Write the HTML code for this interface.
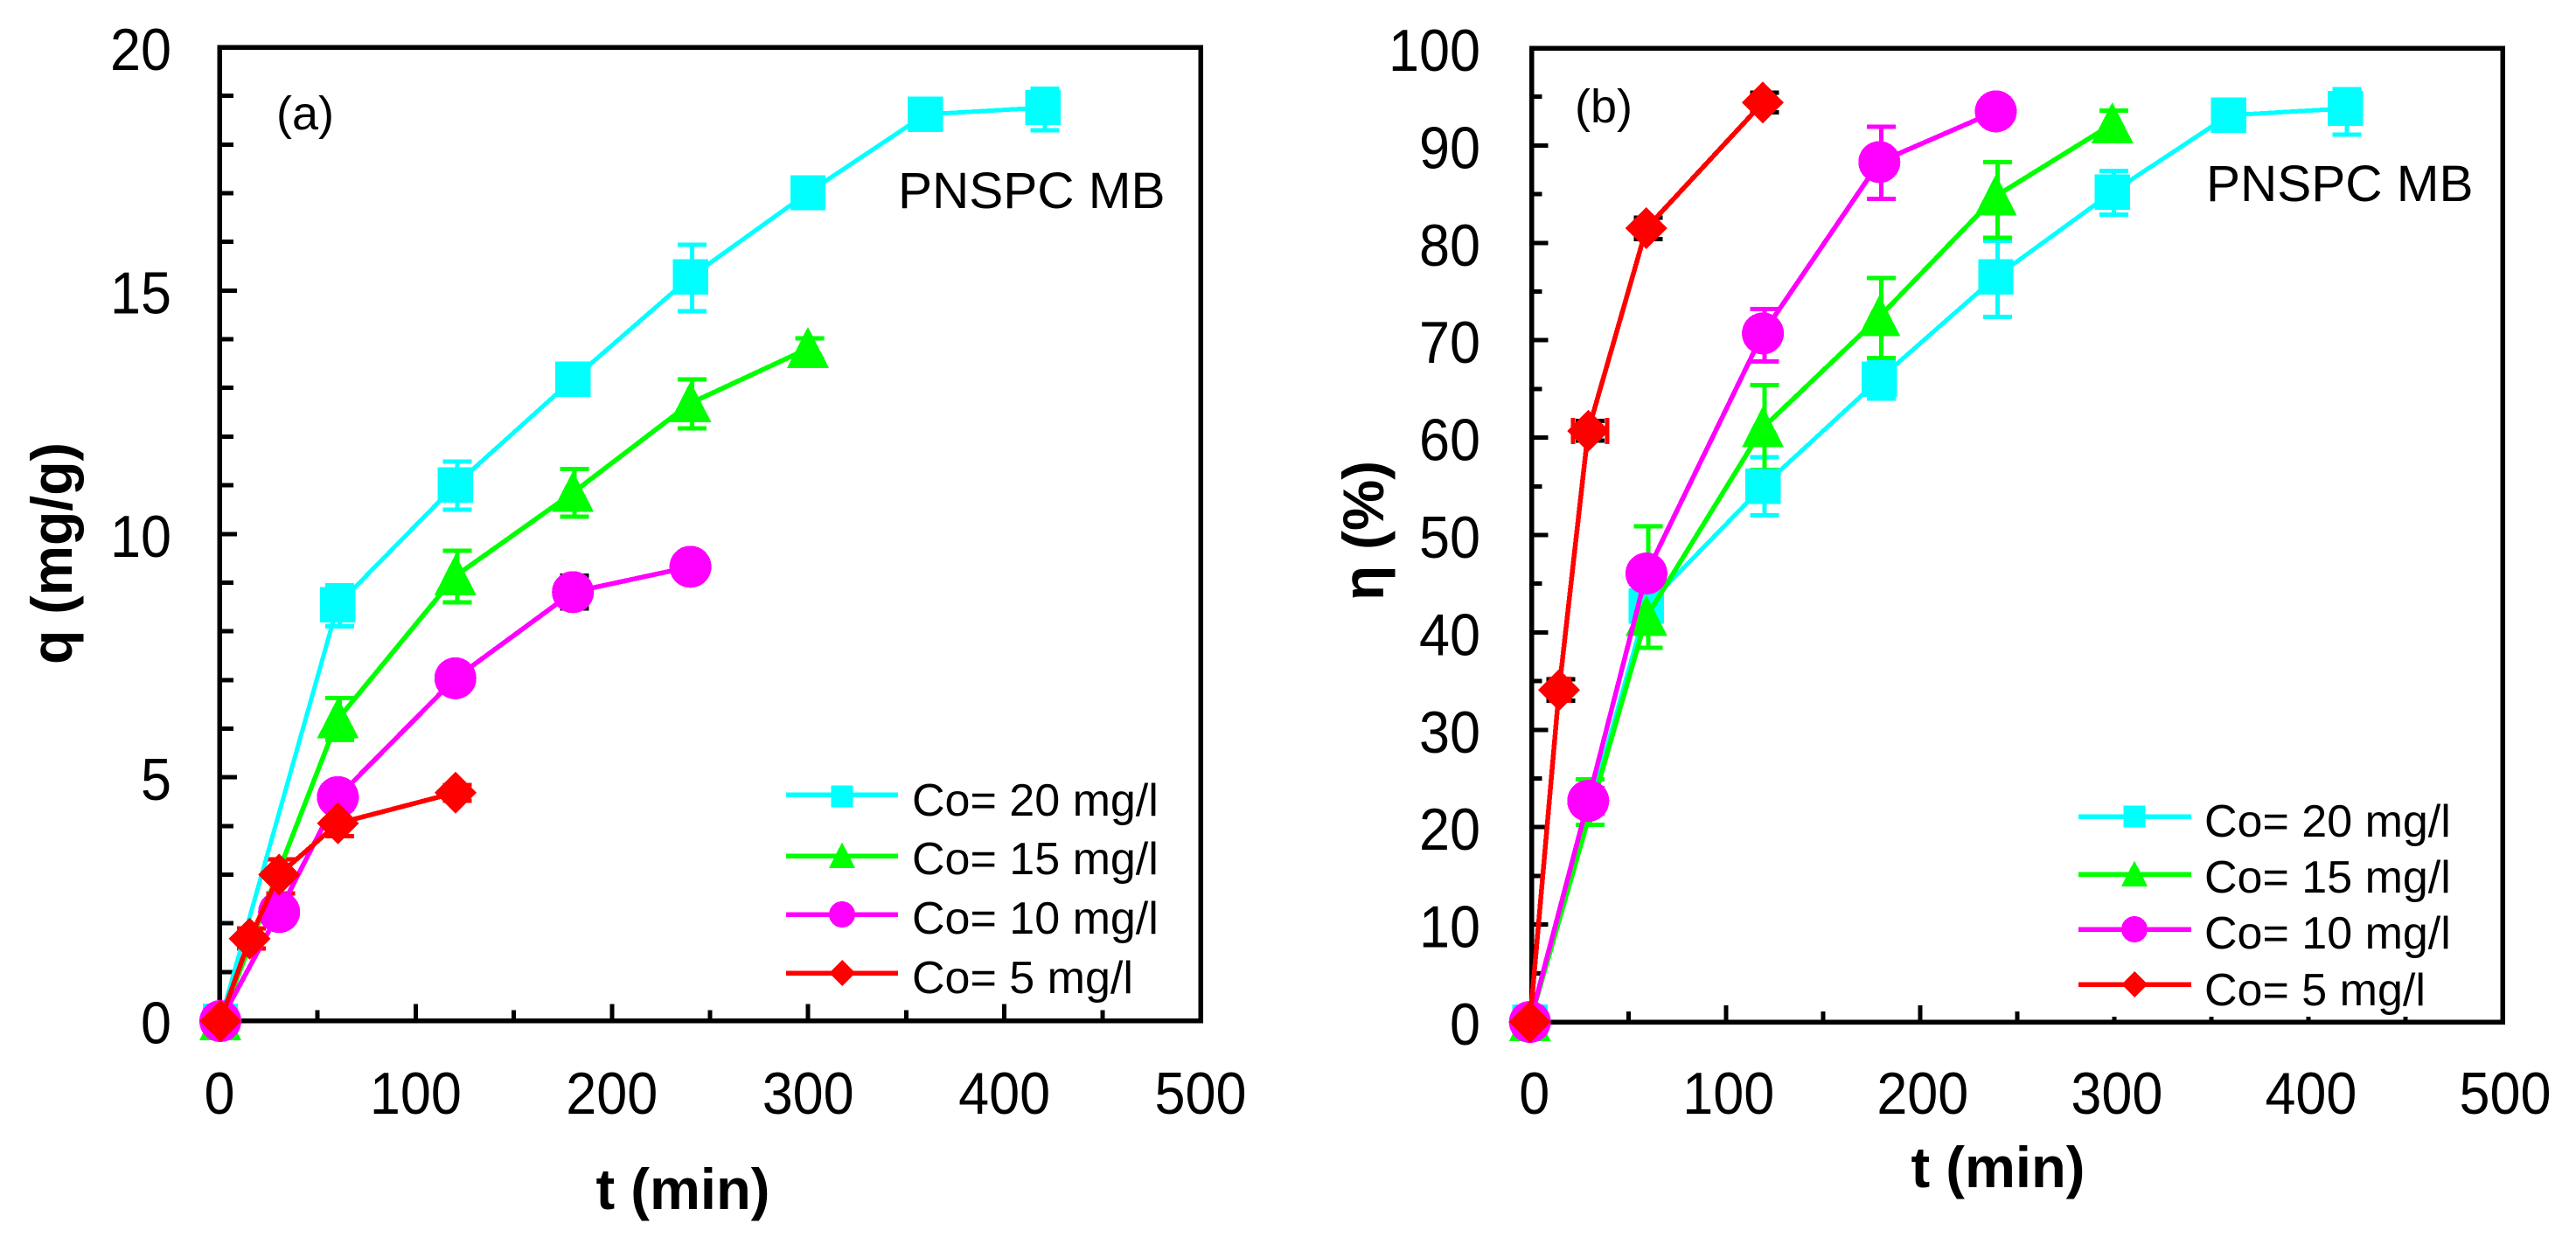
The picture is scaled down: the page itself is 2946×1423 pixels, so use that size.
<!DOCTYPE html>
<html lang="en">
<head>
<meta charset="utf-8">
<title>Adsorption kinetics of MB on PNSPC</title>
<style>
html,body{margin:0;padding:0;background:#fff;}
svg{display:block;}
text{font-family:"Liberation Sans",sans-serif;fill:#000;}
</style>
</head>
<body>
<svg id="chart" xmlns="http://www.w3.org/2000/svg" width="2946" height="1423" viewBox="0 0 2946 1423" shape-rendering="crispEdges">
  <rect x="0" y="0" width="2946" height="1423" fill="#fff"/>
  <g id="panel-a"></g>
  <g id="panel-b"></g>
</svg>
<script>
// ---------- axis tick data ----------
const xTickLabels = [0, 100, 200, 300, 400, 500];
const yTickLabelsA = [0, 5, 10, 15, 20];
const yTickLabelsB = [0, 10, 20, 30, 40, 50, 60, 70, 80, 90, 100];
const legendLabels = ['Co= 20 mg/l', 'Co= 15 mg/l', 'Co= 10 mg/l', 'Co= 5 mg/l'];

// ---------- panel (a): q (mg/g) ----------
const tA20 = [0, 60, 120, 180, 240, 300, 360, 420];
const qA20 = [0, 8.55, 11.01, 13.18, 15.28, 17.01, 18.62, 18.76];
const qA20Up = [0, 8.95, 11.49, 13.4, 15.94, 17.12, 18.8, 19.15];
const qA20Low = [0, 8.11, 10.5, 13.0, 14.58, 16.9, 18.45, 18.29];

const tA15 = [0, 60, 120, 180, 240, 300];
const qA15 = [0, 6.2, 9.14, 10.85, 12.69, 13.81];
const qA15Up = [0, 6.63, 9.66, 11.34, 13.18, 14.02];
const qA15Low = [0, 5.77, 8.6, 10.36, 12.17, 13.6];

const tA10 = [0, 30, 60, 120, 180, 240];
const qA10 = [0, 2.24, 4.6, 7.04, 8.81, 9.33];
const qA10Up = [0, 2.4, 4.85, 7.2, 9.15, 9.45];
const qA10Low = [0, 2.1, 4.35, 6.9, 8.47, 9.2];
const blackErrTA = [180, 60];
const blackErrUpA = [9.15, 4.85];
const blackErrLowA = [8.47, 4.35];

const tA5 = [0, 15, 30, 60, 120];
const qA5 = [0, 1.69, 3.01, 4.06, 4.69];
const qA5Up = [0, 1.9, 3.32, 4.35, 4.85];
const qA5Low = [0, 1.49, 2.62, 3.8, 4.52];

// ---------- panel (b): removal efficiency (%) ----------
const tB20 = [0, 60, 120, 180, 240, 300, 360, 420];
const eB20 = [0, 42.7, 55, 66, 76.5, 85.2, 93.1, 93.8];
const eB20Up = [0, 45, 58, 68, 80.2, 87.4, 94, 95.8];
const eB20Low = [0, 40.5, 52, 64, 72.4, 82.9, 92.2, 91.1];

const tB15 = [0, 60, 120, 180, 240, 300];
const eB15 = [0, 41.6, 61, 72.4, 84.8, 92.2];
const eBErrT15 = [30, 60, 120, 180, 240, 300];
const eB15Up = [24.9, 50.9, 65.4, 76.4, 88.3, 93.6];
const eB15Low = [20.25, 38.4, 56.7, 68.2, 80.5, 90.8];

const tB10 = [0, 30, 60, 120, 180, 240];
const eB10 = [0, 22.7, 46.05, 70.7, 88.3, 93.5];
const eB10Up = [0, 24, 47, 73.2, 91.9, 94.5];
const eB10Low = [0, 21.4, 45, 67.8, 84.5, 92.5];

const tB5 = [0, 15, 30, 60, 120];
const eB5 = [0, 34.1, 60.7, 81.5, 94.4];
const eB5Up = [0, 35.2, 61.7, 82.6, 95.4];
const eB5Low = [0, 33, 59.7, 80.4, 93.4];
const eB5XErrT = [15, 30];
const eB5XErrMin = [10, 21.2];
const eB5XErrMax = [19.2, 38.8];

const CYAN = '#00ffff', GREEN = '#00ff00', MAGENTA = '#ff00ff', RED = '#ff0000';
const NS = 'http://www.w3.org/2000/svg';

function make(parent, tag, attrs, name) {
  const el = document.createElementNS(NS, tag);
  for (const k in attrs) el.setAttribute(k, attrs[k]);
  
  
  parent.appendChild(el);
  return el;
}

function label(parent, txt, x, y, size, opts, name) {
  const t = make(parent, 'text', Object.assign({x: x, y: y, 'font-size': size}, opts || {}), name);
  t.textContent = txt;
  return t;
}

function marker(parent, kind, cx, cy, color, name, s) {
  const w = s || 24;
  if (kind === 'square') {
    const h = w * 0.84;
    make(parent, 'rect', {x: cx - h, y: cy - h, width: 2 * h, height: 2 * h, fill: color}, name);
  } else if (kind === 'triangle') {
    make(parent, 'polygon', {points: (cx) + ',' + (cy - w * 1.04) + ' ' + (cx + w) + ',' + (cy + w * 0.92) + ' ' + (cx - w) + ',' + (cy + w * 0.92), fill: color}, name);
  } else if (kind === 'circle') {
    make(parent, 'circle', {cx: cx, cy: cy, r: w, fill: color}, name);
  } else {
    make(parent, 'polygon', {points: cx + ',' + (cy - w) + ' ' + (cx + w) + ',' + cy + ' ' + cx + ',' + (cy + w) + ' ' + (cx - w) + ',' + cy, fill: color}, name);
  }
}

function vError(g, px, yUp, yLow, color, name) {
  make(g, 'line', {x1: px, x2: px, y1: yUp, y2: yLow, stroke: color, 'stroke-width': 5}, name + '-stem');
  make(g, 'line', {x1: px - 16.5, x2: px + 16.5, y1: yUp, y2: yUp, stroke: color, 'stroke-width': 5}, name + '-cap-top');
  make(g, 'line', {x1: px - 16.5, x2: px + 16.5, y1: yLow, y2: yLow, stroke: color, 'stroke-width': 5}, name + '-cap-bottom');
}

function drawPanel(cfg) {
  const g = cfg.g;
  const sx = cfg.sx, sy = cfg.sy;
  const axisX = t => cfg.ax + (cfg.ax2 - cfg.ax) * t / 500;
  const axisY = v => cfg.ay + (cfg.ay2 - cfg.ay) * v / cfg.yMax;

  // error bars (under everything)
  cfg.series.forEach(s => {
    const errT = s.errT || s.t;
    errT.forEach((t, i) => {
      if (t === 0) return;
      vError(g, sx(t) + 2, sy(s.up[i]), sy(s.low[i]), s.color, s.key + '-error-bar');
    });
  });
  (cfg.blackErr || []).forEach(b => {
    vError(g, sx(b.t) + 2, sy(b.up), sy(b.low), '#000', 'hidden-error-bar');
  });
  (cfg.xErr || []).forEach(e => {
    const y = sy(e.v);
    make(g, 'line', {x1: sx(e.min) + 2, x2: sx(e.max) + 2, y1: y, y2: y, stroke: RED, 'stroke-width': 5}, 'x-error-bar');
    make(g, 'line', {x1: sx(e.min) + 2, x2: sx(e.min) + 2, y1: y - 15, y2: y + 15, stroke: RED, 'stroke-width': 5}, 'x-error-cap-left');
    make(g, 'line', {x1: sx(e.max) + 2, x2: sx(e.max) + 2, y1: y - 15, y2: y + 15, stroke: RED, 'stroke-width': 5}, 'x-error-cap-right');
  });

  // ticks
  for (let t = 50; t < 500; t += 50) {
    const major = t % 100 === 0;
    const px = axisX(t);
    make(g, 'line', {x1: px, x2: px, y1: cfg.ay, y2: cfg.ay - (major ? 19 : 12), stroke: '#000', 'stroke-width': 5}, 'x-tick');
  }
  for (let v = cfg.yMinor; v < cfg.yMax; v += cfg.yMinor) {
    const major = v % cfg.yMajor === 0;
    const py = axisY(v);
    make(g, 'line', {x1: cfg.ax, x2: cfg.ax + (major ? cfg.majorLen : cfg.minorLen), y1: py, y2: py, stroke: '#000', 'stroke-width': 5}, 'y-tick');
  }

  // legend mask
  if (cfg.mask) make(g, 'rect', {x: cfg.mask[0], y: cfg.mask[1], width: cfg.mask[2], height: cfg.mask[3], fill: '#fff'}, 'legend-box');

  // frame
  make(g, 'rect', {x: cfg.ax, y: cfg.ay2, width: cfg.ax2 - cfg.ax, height: cfg.ay - cfg.ay2, fill: 'none', stroke: '#000', 'stroke-width': 5.5}, 'plot-frame');

  // tick labels
  xTickLabels.forEach(v => {
    const s = String(v);
    label(g, s, axisX(v) + cfg.xLabelDx, cfg.xLabelY, 68, {'text-anchor': 'middle', textLength: s.length * 35, lengthAdjust: 'spacingAndGlyphs'}, 'x-tick-label');
  });
  cfg.yLabels.forEach(v => {
    const s = String(v);
    label(g, s, cfg.yLabelX, axisY(v) + 26, 68, {'text-anchor': 'end', textLength: s.length * 35, lengthAdjust: 'spacingAndGlyphs'}, 'y-tick-label');
  });

  // axis titles
  label(g, 't (min)', cfg.xTitleX, cfg.xTitleY, 66, {'text-anchor': 'middle', 'font-weight': 'bold', textLength: 199, lengthAdjust: 'spacingAndGlyphs'}, 'x-axis-title');
  label(g, cfg.yTitle, 0, 0, 66, {'text-anchor': 'middle', 'font-weight': 'bold', textLength: cfg.yTitleLen, lengthAdjust: 'spacingAndGlyphs', transform: 'translate(' + cfg.yTitleX + ',' + cfg.yTitleY + ') rotate(-90)'}, 'y-axis-title');

  // panel annotations
  label(g, cfg.tag, cfg.tagX, cfg.tagY, 54, {}, 'panel-tag');
  label(g, 'PNSPC MB', cfg.noteX, cfg.noteY, 58.5, {}, 'sample-label');

  // series
  cfg.series.forEach(s => {
    const pts = s.t.map((t, i) => sx(t) + ',' + sy(s.v[i])).join(' ');
    make(g, 'polyline', {points: pts, fill: 'none', stroke: s.color, 'stroke-width': s.lw || 5.5}, s.key + '-line');
    s.t.forEach((t, i) => marker(g, s.kind, sx(t), sy(s.v[i]), s.color, s.key + '-point'));
  });

  // legend
  cfg.series.forEach((s, i) => {
    make(g, 'line', {x1: cfg.lgX1, x2: cfg.lgX2, y1: cfg.lgY[i], y2: cfg.lgY[i], stroke: s.color, 'stroke-width': 5.5}, 'legend-line');
    marker(g, s.kind, cfg.lgMX, cfg.lgMY[i], s.color, 'legend-marker', 15);
    label(g, legendLabels[i], cfg.lgTX, cfg.lgTY[i], 52, {}, 'legend-label');
  });
}

drawPanel({
  g: document.getElementById('panel-a'),
  sx: t => 252 + 2.24 * t,
  sy: v => 1168 - 55.7 * v,
  ax: 251, ax2: 1373, ay: 1167.5, ay2: 54, yMax: 20, yMinor: 1, yMajor: 5, majorLen: 20, minorLen: 16,
  xLabelDx: 0, xLabelY: 1274, yLabels: yTickLabelsA, yLabelX: 196,
  xTitleX: 781, xTitleY: 1383, yTitle: 'q (mg/g)', yTitleLen: 254, yTitleX: 82, yTitleY: 633,
  tag: '(a)', tagX: 316, tagY: 148, noteX: 1027, noteY: 238,
  lgX1: 899, lgX2: 1027, lgMX: 963, lgTX: 1043,
  lgY: [909, 979, 1046, 1113], lgMY: [911, 979, 1046, 1113], lgTY: [933, 1000, 1068, 1136],
  blackErr: blackErrTA.map((t, i) => ({t: t, up: blackErrUpA[i], low: blackErrLowA[i]})),
  series: [
    {key: 'co-20', kind: 'square', color: CYAN, t: tA20, v: qA20, up: qA20Up, low: qA20Low, lw: 5},
    {key: 'co-15', kind: 'triangle', color: GREEN, t: tA15, v: qA15, up: qA15Up, low: qA15Low},
    {key: 'co-10', kind: 'circle', color: MAGENTA, t: tA10, v: qA10, up: qA10Up, low: qA10Low},
    {key: 'co-5', kind: 'diamond', color: RED, t: tA5, v: qA5, up: qA5Up, low: qA5Low}
  ]
});

drawPanel({
  g: document.getElementById('panel-b'),
  sx: t => 1749.7 + 2.22 * t,
  sy: v => 1169 - 11.14 * v,
  ax: 1751.7, ax2: 2862, ay: 1169, ay2: 55, yMax: 100, yMinor: 5, yMajor: 10, majorLen: 19, minorLen: 12,
  xLabelDx: 3, xLabelY: 1274, yLabels: yTickLabelsB, yLabelX: 1693,
  xTitleX: 2285, xTitleY: 1358, yTitle: 'η (%)', yTitleLen: 160, yTitleX: 1582, yTitleY: 607,
  tag: '(b)', tagX: 1801, tagY: 140, noteX: 2523, noteY: 230,
  lgX1: 2377, lgX2: 2506, lgMX: 2441, lgTX: 2521,
  lgY: [934, 1000, 1063, 1126], lgMY: [934, 1000, 1063, 1126], lgTY: [957, 1021, 1085, 1150],
  mask: [2360, 900, 470, 263],
  blackErr: tB5.filter(t => t > 0).map(t => {
    const i = tB5.indexOf(t);
    return {t: t, up: eB5Up[i], low: eB5Low[i]};
  }),
  xErr: eB5XErrT.map((t, i) => ({v: eB5[tB5.indexOf(t)], min: eB5XErrMin[i], max: eB5XErrMax[i]})),
  series: [
    {key: 'co-20', kind: 'square', color: CYAN, t: tB20, v: eB20, up: eB20Up, low: eB20Low, lw: 5},
    {key: 'co-15', kind: 'triangle', color: GREEN, t: tB15, v: eB15, errT: eBErrT15, up: eB15Up, low: eB15Low},
    {key: 'co-10', kind: 'circle', color: MAGENTA, t: tB10, v: eB10, errT: [], up: eB10Up, low: eB10Low},
    {key: 'co-5', kind: 'diamond', color: RED, t: tB5, v: eB5, errT: [], up: eB5Up, low: eB5Low}
  ]
});

// magenta error bars in panel (b) sit under the other marks
(function () {
  const g = document.getElementById('panel-b');
  const first = g.firstChild;
  tB10.forEach((t, i) => {
    if (t === 0) return;
    const px = 1749.7 + 2.22 * t + 2;
    const holder = document.createElementNS(NS, 'g');
    
    
    vError(holder, px, 1169 - 11.14 * eB10Up[i], 1169 - 11.14 * eB10Low[i], MAGENTA, 'co-10-error-bar');
    g.insertBefore(holder, first);
  });
})();
</script>
</body>
</html>
